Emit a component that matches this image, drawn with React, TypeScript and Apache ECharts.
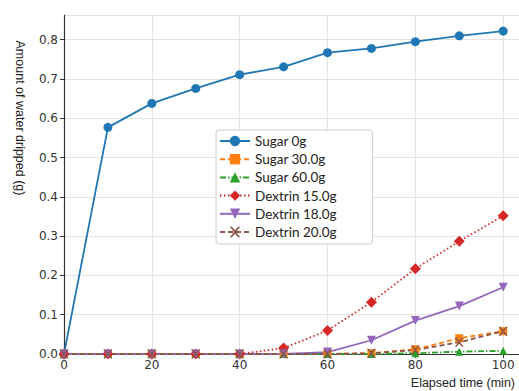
import React, { useEffect, useRef } from "react";
import * as echarts from "echarts";

const times = [0, 10, 20, 30, 40, 50, 60, 70, 80, 90, 100];
const sugar0 = [0, 0.577, 0.638, 0.676, 0.711, 0.731, 0.767, 0.778, 0.795, 0.81, 0.822];
const sugar30 = [0, 0, 0, 0, 0, 0, 0, 0.002, 0.012, 0.04, 0.058];
const sugar60 = [0, 0, 0, 0, 0, 0, 0, 0, 0.002, 0.006, 0.008];
const dextrin15 = [0, 0, 0, 0, 0, 0.015, 0.06, 0.132, 0.217, 0.287, 0.352];
const dextrin18 = [0, 0, 0, 0, 0, 0, 0.005, 0.035, 0.085, 0.122, 0.17];
const dextrin20 = [0, 0, 0, 0, 0, 0, 0, 0.002, 0.01, 0.03, 0.058];

const seriesDefs = [
  { name: "Sugar 0g", data: sugar0, color: "#1f77b4", symbol: "circle", size: 9, type: "solid" },
  { name: "Sugar 30.0g", data: sugar30, color: "#ff7f0e", symbol: "rect", size: 8, type: [5, 3] },
  { name: "Sugar 60.0g", data: sugar60, color: "#2ca02c", symbol: "triangle", size: 8, type: [6, 2, 1.5, 2] },
  { name: "Dextrin 15.0g", data: dextrin15, color: "#d62728", symbol: "diamond", size: 11, type: [1.5, 2.5] },
  { name: "Dextrin 18.0g", data: dextrin18, color: "#9467bd", symbol: "path://M0,0L10,0L5,9Z", size: 9, type: "solid" },
  { name: "Dextrin 20.0g", data: dextrin20, color: "#8c564b", symbol: "path://M0,0L2,0L5,3L8,0L10,0L6,4.5L10,9L8,9L5,6L2,9L0,9L4,4.5Z", size: 9, type: [5, 3] },
];

export default function App() {
  const ref = useRef<HTMLDivElement>(null);
  useEffect(() => {
    if (!ref.current) return;
    const chart = echarts.init(ref.current, undefined, { renderer: "svg" });
    const tickFont = { fontFamily: "DejaVu Sans", fontSize: 12, color: "#333" };
    chart.setOption({
      animation: false,
      backgroundColor: "#ffffff",
      grid: { left: 64, top: 15, right: -5, bottom: 37, containLabel: false },
      xAxis: [
        {
          type: "value",
          min: 0,
          max: 103.6,
          interval: 20,
          axisLine: { show: true, onZero: false, lineStyle: { color: "#333", width: 1.2 } },
          axisTick: { show: true, length: 4, lineStyle: { color: "#333" } },
          axisLabel: { ...tickFont, margin: 5, showMaxLabel: false },
          splitLine: { show: true, lineStyle: { color: "#e3e3e3", width: 1 } },
        },
        {
          type: "value",
          position: "top",
          min: 0,
          max: 103.6,
          axisLine: { show: true, lineStyle: { color: "#333", width: 1.2 } },
          axisTick: { show: false },
          axisLabel: { show: false },
          splitLine: { show: false },
        },
      ],
      yAxis: {
        type: "value",
        min: 0,
        max: 0.863,
        interval: 0.1,
        axisLine: { show: true, lineStyle: { color: "#333", width: 1.2 } },
        axisTick: { show: true, length: 4, lineStyle: { color: "#333" } },
        axisLabel: { ...tickFont, margin: 6, showMaxLabel: false, formatter: (v: number) => v.toFixed(1) },
        splitLine: { show: true, lineStyle: { color: "#e3e3e3", width: 1 } },
      },
      legend: {
        orient: "vertical",
        left: 216,
        top: 130,
        z: 10,
        backgroundColor: "rgba(255,255,255,0.9)",
        borderColor: "#cccccc",
        borderWidth: 1,
        borderRadius: 3,
        padding: [4, 36, 5, 3],
        itemGap: 4.2,
        itemWidth: 30,
        itemHeight: 13,
        textStyle: { fontFamily: "Lato", fontSize: 13.5, color: "#222" },
        data: seriesDefs.map((s) => s.name),
      },
      series: seriesDefs.map((s) => ({
        name: s.name,
        type: "line",
        data: times.map((t, i) => [t, s.data[i]]),
        symbol: s.symbol,
        symbolSize: s.size,
        showSymbol: true,
        color: s.color,
        itemStyle: { color: s.color },
        lineStyle: { color: s.color, width: 1.8, type: s.type },
        z: 3,
      })),
      graphic: [
        {
          type: "text",
          x: 20,
          y: 118,
          rotation: -Math.PI / 2,
          style: {
            text: "Amount of water dripped (g)",
            fontFamily: "Liberation Sans",
            fontSize: 12.5,
            fill: "#222",
            align: "center",
            verticalAlign: "middle",
          },
        },
        {
          type: "text",
          right: 4,
          top: 376,
          style: {
            text: "Elapsed time (min)",
            fontFamily: "Liberation Sans",
            fontSize: 12.5,
            fill: "#222",
          },
        },
      ],
    });
    return () => chart.dispose();
  }, []);
  return <div ref={ref} style={{ width: 519, height: 391, position: "absolute", left: 0, top: 0 }} />;
}
